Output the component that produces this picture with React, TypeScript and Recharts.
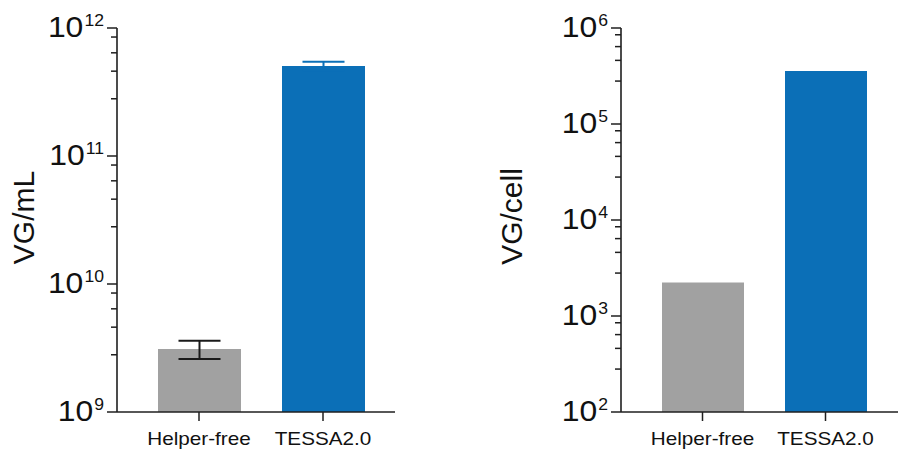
import React from "react";
import { Bar, BarChart, Cell, ErrorBar, XAxis, YAxis } from "recharts";

const categories = ["Helper-free", "TESSA2.0"];
const barColors = ["#a1a1a1", "#0b6fb7"];
const errorColors = ["#1a1a1a", "#0b6fb7"];

// VG/mL (mean, lower and upper end of error bar)
const vgPerMl = [3.1e9, 5.05e11];
const vgPerMlLow = [2.6e9, 4.65e11];
const vgPerMlHigh = [3.6e9, 5.45e11];

// VG/cell
const vgPerCell = [2240, 3.56e5];

const mlDecades = [1e9, 1e10, 1e11, 1e12];
const cellDecades = [1e2, 1e3, 1e4, 1e5, 1e6];
const minorFactors = [8.5, 6.4, 4.6, 2.8];

const font = "Arial, 'Liberation Sans', sans-serif";
const axisColor = "#1f1f1f";

const buildTicks = (decades: number[]) => {
  const out: number[] = [...decades];
  decades.slice(1).forEach((d) => {
    minorFactors.forEach((f) => out.push((d / 10) * f));
  });
  return out.sort((a, b) => a - b);
};

const mlData = categories.map((name, i) => {
  const row: any = { name, value: vgPerMl[i] };
  row[`err${i}`] = [vgPerMl[i] - vgPerMlLow[i], vgPerMlHigh[i] - vgPerMl[i]];
  return row;
});

const cellData = categories.map((name, i) => ({ name, value: vgPerCell[i] }));

const LogTick = (props: any) => {
  const { x, y, payload } = props;
  const exp = Math.log10(payload.value);
  const major = Math.abs(exp - Math.round(exp)) < 1e-6;
  return (
    <g>
      <line
        x1={x - (major ? 10 : 6)}
        x2={x}
        y1={y}
        y2={y}
        stroke={axisColor}
        strokeWidth={1.5}
      />
      {major && (
        <g transform={`translate(${x - 13},${y + 9}) scale(1.1,1)`}>
          <text textAnchor="end" fontSize={29} fill="#111" fontFamily={font}>
            10
            <tspan dx={1} dy={-11} fontSize={16}>
              {Math.round(exp)}
            </tspan>
          </text>
        </g>
      )}
    </g>
  );
};

const CategoryTick = (props: any) => {
  const { x, y, payload } = props;
  return (
    <g transform={`translate(${x},${y + 24}) scale(1.15,1)`}>
      <text textAnchor="middle" fontSize={18} fill="#111" fontFamily={font}>
        {payload.value}
      </text>
    </g>
  );
};

const title = (text: string, x: number, y: number) => () =>
  (
    <text
      x={x}
      y={y}
      transform={`rotate(-90, ${x}, ${y})`}
      textAnchor="middle"
      fontSize={30}
      fill="#111"
      fontFamily={font}
    >
      {text}
    </text>
  );

const App = () => {
  return (
    <div
      style={{
        position: "absolute",
        left: 0,
        top: 0,
        width: 898,
        height: 451,
        background: "#fff",
      }}
    >
      <div style={{ position: "absolute", left: 0, top: 0 }}>
        <BarChart
          width={449}
          height={451}
          data={mlData}
          margin={{ top: 28, right: 54, bottom: 0, left: 0 }}
        >
          <XAxis
            dataKey="name"
            height={39}
            padding={{ left: 20, right: 10 }}
            axisLine={{ stroke: axisColor, strokeWidth: 1.6 }}
            tickLine={{ stroke: axisColor, strokeWidth: 1.5 }}
            tickSize={9}
            tickMargin={0}
            tick={<CategoryTick />}
            interval={0}
          />
          <YAxis
            type="number"
            scale="log"
            domain={[1e9, 1e12]}
            allowDataOverflow
            ticks={buildTicks(mlDecades)}
            interval={0}
            width={117}
            axisLine={{ stroke: axisColor, strokeWidth: 1.6 }}
            tickLine={false}
            tickSize={0}
            tickMargin={0}
            tick={<LogTick />}
            label={title("VG/mL", 34, 217.5)}
          />
          <Bar dataKey="value" barSize={83} isAnimationActive={false}>
            {categories.map((c, i) => (
              <Cell key={c} fill={barColors[i]} />
            ))}
            {categories.map((c, i) => (
              <ErrorBar
                key={`e${c}`}
                dataKey={`err${i}`}
                width={21}
                stroke={errorColors[i]}
                strokeWidth={2}
                isAnimationActive={false}
              />
            ))}
          </Bar>
        </BarChart>
      </div>
      <div style={{ position: "absolute", left: 449, top: 0 }}>
        <BarChart
          width={449}
          height={451}
          data={cellData}
          margin={{ top: 28, right: 0, bottom: 0, left: 0 }}
        >
          <XAxis
            dataKey="name"
            height={39}
            padding={{ left: 20, right: 11 }}
            axisLine={{ stroke: axisColor, strokeWidth: 1.6 }}
            tickLine={{ stroke: axisColor, strokeWidth: 1.5 }}
            tickSize={9}
            tickMargin={0}
            tick={<CategoryTick />}
            interval={0}
          />
          <YAxis
            type="number"
            scale="log"
            domain={[1e2, 1e6]}
            allowDataOverflow
            ticks={buildTicks(cellDecades)}
            interval={0}
            width={172}
            axisLine={{ stroke: axisColor, strokeWidth: 1.6 }}
            tickLine={false}
            tickSize={0}
            tickMargin={0}
            tick={<LogTick />}
            label={title("VG/cell", 73, 216.5)}
          />
          <Bar dataKey="value" barSize={82} isAnimationActive={false}>
            {categories.map((c, i) => (
              <Cell key={c} fill={barColors[i]} />
            ))}
          </Bar>
        </BarChart>
      </div>
    </div>
  );
};

export default App;
